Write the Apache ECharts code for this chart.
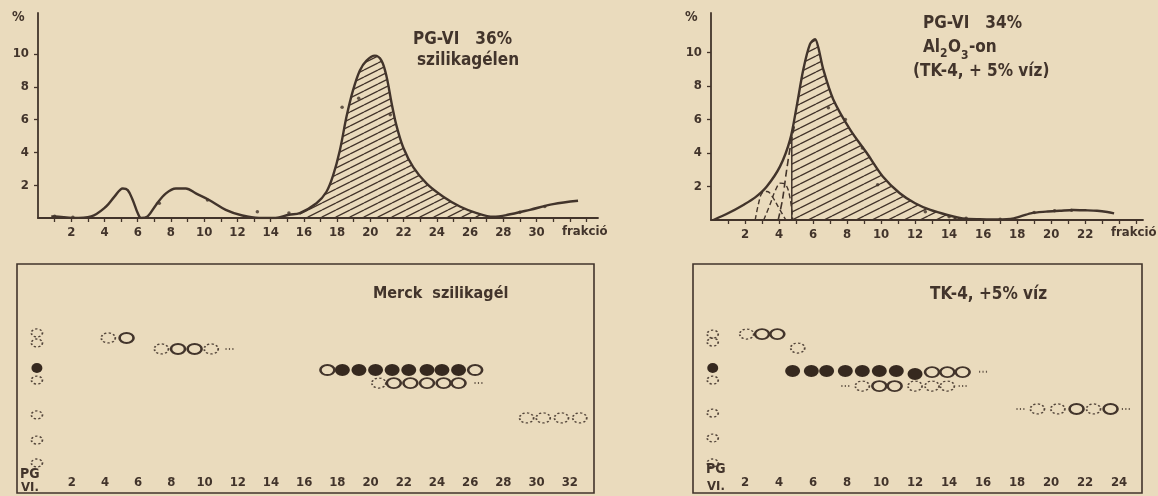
<!DOCTYPE html>
<html>
<head>
<meta charset="utf-8">
<script src="https://cdn.jsdelivr.net/npm/echarts@6/dist/echarts.min.js"></script>
<style>
html, body { margin: 0; padding: 0; background: #eadbbd; }
#chart { width: 1158px; height: 496px; }
</style>
</head>
<body>
<div id="chart"></div>
<script>
// top left: PG-VI 36% on silica gel, elution curve (fraction -> %)
const silicaX = [0.8, 1.0, 2.1, 3.2, 4.1, 4.6, 5.1, 5.4, 5.7, 6.0, 6.2, 6.6, 7.1, 7.7, 8.3, 8.9, 9.5, 10.3, 11.3, 12.3, 13.3, 14.3, 15.1, 15.75, 16.76, 17.36, 17.76, 18.16, 18.57, 18.96, 19.37, 19.77, 20.27, 20.67, 20.98, 21.28, 21.58, 21.98, 22.58, 23.39, 24.39, 25.39, 26.4, 27.4, 28.2, 29.6, 31.0, 32.5];
const silicaY = [0.1, 0.1, 0.0, 0.1, 0.7, 1.3, 1.8, 1.7, 1.1, 0.3, 0.0, 0.1, 0.8, 1.5, 1.8, 1.8, 1.5, 1.1, 0.5, 0.15, 0.0, 0.0, 0.2, 0.3, 0.9, 1.6, 2.6, 4.1, 6.2, 7.8, 9.0, 9.6, 9.9, 9.6, 8.6, 7.0, 5.6, 4.3, 3.1, 2.1, 1.3, 0.7, 0.3, 0.08, 0.18, 0.5, 0.85, 1.05];
const silicaHatch = [15.7, 27.5];
const silicaDotX = [1.0, 2.1, 7.3, 10.2, 13.2, 15.1, 18.3, 19.3, 21.2, 29.0, 30.5];
const silicaDotY = [0.1, 0.05, 0.9, 1.1, 0.38, 0.3, 6.75, 7.3, 6.3, 0.35, 0.7];

// top right: PG-VI 34% on Al2O3 (TK-4 + 5% water)
const aluX = [0.14, 1.0, 1.9, 2.6, 3.28, 4.06, 4.65, 5.04, 5.43, 5.82, 6.12, 6.31, 6.6, 7.19, 8.18, 9.16, 10.1, 11.1, 12.0, 12.9, 13.9, 14.8, 15.8, 16.8, 17.8, 18.8, 19.7, 20.5, 21.3, 22.0, 22.7, 23.3, 23.7];
const aluY = [0.0, 0.4, 0.9, 1.35, 2.0, 3.2, 4.8, 6.8, 9.0, 10.5, 10.8, 10.3, 9.0, 7.2, 5.4, 4.0, 2.6, 1.6, 1.0, 0.6, 0.3, 0.1, 0.05, 0.04, 0.1, 0.4, 0.5, 0.55, 0.6, 0.58, 0.55, 0.48, 0.4];
const aluHatchFrom = 4.75;
const aluHatchEdge = 5.3;
const aluDotX = [6.9, 7.9, 8.9, 9.8, 12.6, 14.0, 15.0, 17.0, 19.0, 20.2, 21.2];
const aluDotY = [6.7, 6.0, 4.3, 2.1, 0.5, 0.2, 0.1, 0.05, 0.45, 0.55, 0.58];
const compAX = [2.6, 2.8, 3.0, 3.3, 3.6, 4.0, 4.4];
const compAY = [0.0, 1.0, 1.6, 1.7, 1.4, 0.7, 0.0];
const compBX = [3.1, 3.5, 3.8, 4.1, 4.4, 4.65, 4.8];
const compBY = [0.0, 1.0, 1.8, 2.2, 2.1, 1.3, 0.0];
const compCX = [3.95, 4.2, 4.45, 4.7, 4.9];
const compCY = [0.0, 1.2, 3.0, 4.6, 5.6];

// TLC plates: [fraction, height on plate (0-100)]
const merckFilled = [[-0.1, 54.6], [18.3, 53.7], [19.3, 53.7], [20.3, 53.7], [21.3, 53.7], [22.3, 53.7], [23.4, 53.7], [24.3, 53.7], [25.3, 53.7]];
const merckOpen = [[5.3, 67.7], [8.4, 62.9], [9.4, 62.9], [17.4, 53.7], [26.3, 53.7], [21.4, 48.0], [22.4, 48.0], [23.4, 48.0], [24.4, 48.0], [25.3, 48.0]];
const merckFaint = [[-0.1, 69.9], [-0.1, 65.5], [-0.1, 49.3], [-0.1, 34.1], [-0.1, 23.1], [-0.1, 13.1], [4.2, 67.7], [7.4, 62.9], [10.4, 62.9], [20.5, 48.0], [29.4, 32.8], [30.4, 32.8], [31.5, 32.8], [32.6, 32.8]];
const merckTrace = [[11.5, 62.9], [26.5, 48.0]];

const tkFilled = [[0.1, 54.6], [4.8, 53.3], [5.9, 53.3], [6.8, 53.3], [7.9, 53.3], [8.9, 53.3], [9.9, 53.3], [10.9, 53.3], [12.0, 52.0]];
const tkOpen = [[3.0, 69.4], [3.9, 69.4], [13.0, 52.8], [13.9, 52.8], [14.8, 52.8], [9.9, 46.7], [10.8, 46.7], [21.5, 36.7], [23.5, 36.7]];
const tkFaint = [[0.1, 69.4], [0.1, 65.9], [0.1, 49.3], [0.1, 34.9], [0.1, 24.0], [0.1, 13.1], [2.1, 69.4], [5.1, 63.3], [8.9, 46.7], [12.0, 46.7], [13.0, 46.7], [13.9, 46.7], [19.2, 36.7], [20.4, 36.7], [22.5, 36.7]];
const tkTrace = [[16.0, 53.0], [7.9, 46.7], [14.8, 46.7], [18.2, 36.7], [24.4, 36.7]];

const silicaTicks = [2, 4, 6, 8, 10, 12, 14, 16, 18, 20, 22, 24, 26, 28, 30];
const aluTicks = [2, 4, 6, 8, 10, 12, 14, 16, 18, 20, 22];
const merckTicks = [2, 4, 6, 8, 10, 12, 14, 16, 18, 20, 22, 24, 26, 28, 30, 32];
const tkTicks = [2, 4, 6, 8, 10, 12, 14, 16, 18, 20, 22, 24];
const yTicks = [2, 4, 6, 8, 10];

const ink = '#42342b';
const font = "'DejaVu Sans Condensed', 'DejaVu Sans', sans-serif";

const pairs = (xs, ys) => xs.map((x, i) => [x, ys[i]]);
const range = (n) => Array.from({ length: n }, (_, i) => i + 1);

function hatch(step) {
    const c = document.createElement('canvas');
    c.width = step * 2;
    c.height = step;
    const g = c.getContext('2d');
    g.strokeStyle = ink;
    g.lineWidth = 1.35;
    for (let k = -1; k <= 1; k++) {
        g.beginPath();
        g.moveTo(0, step + k * step);
        g.lineTo(step * 2, k * step);
        g.stroke();
    }
    return c;
}

const silicaCurve = pairs(silicaX, silicaY);
const silicaArea = silicaCurve.filter(p => p[0] >= silicaHatch[0] && p[0] <= silicaHatch[1]);
const aluCurve = pairs(aluX, aluY);
const aluArea = [[aluHatchFrom, aluHatchEdge]].concat(aluCurve.filter(p => p[0] > aluHatchFrom && p[0] <= 16));

const chart = echarts.init(document.getElementById('chart'));

const axisText = { color: ink, fontFamily: font, fontSize: 13, fontWeight: 'bold' };

function curveX(idx, max, ticks, nTicks) {
    return {
        type: 'value', gridIndex: idx, min: 0, max: max,
        splitLine: { show: false },
        axisLine: { lineStyle: { color: ink, width: 1.8 } },
        axisTick: { customValues: range(nTicks), length: 4, lineStyle: { color: ink, width: 1.3 } },
        axisLabel: Object.assign({ customValues: ticks, margin: 8 }, axisText)
    };
}
function curveY(idx, max) {
    return {
        type: 'value', gridIndex: idx, min: 0, max: max,
        splitLine: { show: false },
        axisLine: { show: true, lineStyle: { color: ink, width: 1.8 } },
        axisTick: { show: true, customValues: yTicks, length: 4, lineStyle: { color: ink, width: 1.3 } },
        axisLabel: Object.assign({ customValues: yTicks, margin: 9 }, axisText)
    };
}
function plateX(idx, min, max, ticks) {
    return {
        type: 'value', gridIndex: idx, min: min, max: max,
        splitLine: { show: false },
        axisLine: { show: false },
        axisTick: { show: false },
        axisLabel: Object.assign({ customValues: ticks, inside: true, margin: 4 }, axisText)
    };
}
function plateY(idx) {
    return { type: 'value', gridIndex: idx, min: 0, max: 100, show: false, splitLine: { show: false } };
}

function spots(idx, filled, open, faint, trace) {
    const size = v => v[0] < 1 ? [11, 8] : [14, 10];
    return [
        { type: 'scatter', xAxisIndex: idx, yAxisIndex: idx, data: filled, symbol: 'circle',
          symbolSize: v => v[0] < 1 ? [11, 10] : [15, 12], itemStyle: { color: '#36291f', opacity: 1 } },
        { type: 'scatter', xAxisIndex: idx, yAxisIndex: idx, data: open, symbol: 'circle', symbolSize: size,
          itemStyle: { color: 'rgba(0,0,0,0)', borderColor: ink, borderWidth: 2.2, opacity: 1 } },
        { type: 'scatter', xAxisIndex: idx, yAxisIndex: idx, data: faint, symbol: 'circle', symbolSize: size,
          itemStyle: { color: 'rgba(0,0,0,0)', borderColor: ink, borderWidth: 1.5, borderType: [2, 2], opacity: 0.9 } },
        { type: 'scatter', xAxisIndex: idx, yAxisIndex: idx, data: trace,
          symbol: 'path://M0,0h1v1h-1z M3,0h1v1h-1z M6,0h1v1h-1z', symbolSize: [8, 2],
          itemStyle: { color: ink } }
    ];
}

function text(str, left, top, size) {
    return { type: 'text', left: left, top: top,
             style: { text: str, fill: ink, fontFamily: font, fontWeight: 'bold', fontSize: size || 16 } };
}

const options = {
    backgroundColor: '#eadbbd',
    animation: false,
    grid: [
        { left: 38, top: 13, width: 560, height: 205 },
        { left: 711, top: 13, width: 432, height: 207 },
        { left: 17, top: 264, width: 577, height: 229, show: true, borderColor: ink, borderWidth: 1.6, backgroundColor: 'transparent' },
        { left: 693, top: 264, width: 449, height: 229, show: true, borderColor: ink, borderWidth: 1.6, backgroundColor: 'transparent' }
    ],
    xAxis: [
        curveX(0, 33.7, silicaTicks, 33),
        curveX(1, 25.4, aluTicks, 25),
        plateX(2, -1.3, 33.46, merckTicks),
        plateX(3, -1.06, 25.35, tkTicks)
    ],
    yAxis: [curveY(0, 12.5), curveY(1, 12.36), plateY(2), plateY(3)],
    series: [
        { type: 'line', xAxisIndex: 0, yAxisIndex: 0, data: silicaArea, smooth: 0.35, symbol: 'none',
          lineStyle: { width: 0 }, areaStyle: { color: { image: hatch(7), repeat: 'repeat' }, opacity: 1 }, z: 1 },
        { type: 'line', xAxisIndex: 0, yAxisIndex: 0, data: silicaCurve, smooth: 0.35, symbol: 'none',
          lineStyle: { color: ink, width: 2.4 }, z: 3 },
        { type: 'scatter', xAxisIndex: 0, yAxisIndex: 0, data: pairs(silicaDotX, silicaDotY), symbolSize: 3.5,
          itemStyle: { color: ink } },

        { type: 'line', xAxisIndex: 1, yAxisIndex: 1, data: aluArea, smooth: 0.3, symbol: 'none',
          lineStyle: { width: 0 }, areaStyle: { color: { image: hatch(8), repeat: 'repeat' }, opacity: 1 }, z: 1 },
        { type: 'line', xAxisIndex: 1, yAxisIndex: 1, data: aluCurve, smooth: 0.3, symbol: 'none',
          lineStyle: { color: ink, width: 2.4 }, z: 3 },
        { type: 'line', xAxisIndex: 1, yAxisIndex: 1, data: [[aluHatchFrom, 0], [aluHatchFrom, aluHatchEdge]], symbol: 'none',
          lineStyle: { color: ink, width: 1.5 } },
        { type: 'line', xAxisIndex: 1, yAxisIndex: 1, data: pairs(compAX, compAY), smooth: 0.4, symbol: 'none',
          lineStyle: { color: ink, width: 1.4, type: [5, 3] } },
        { type: 'line', xAxisIndex: 1, yAxisIndex: 1, data: pairs(compBX, compBY), smooth: 0.4, symbol: 'none',
          lineStyle: { color: ink, width: 1.4, type: [5, 3] } },
        { type: 'line', xAxisIndex: 1, yAxisIndex: 1, data: pairs(compCX, compCY), smooth: 0.3, symbol: 'none',
          lineStyle: { color: ink, width: 1.6, type: [7, 4] } },
        { type: 'scatter', xAxisIndex: 1, yAxisIndex: 1, data: pairs(aluDotX, aluDotY), symbolSize: 3.5,
          itemStyle: { color: ink } }
    ].concat(spots(2, merckFilled, merckOpen, merckFaint, merckTrace))
     .concat(spots(3, tkFilled, tkOpen, tkFaint, tkTrace)),
    graphic: [
        text('%', 12, 10, 14),
        text('%', 685, 10, 14),
        text('PG-VI   36%', 413, 31, 17),
        text('szilikagélen', 417, 52, 17),
        text('frakció', 562, 225, 13),
        text('PG-VI   34%', 923, 15, 17),
        text('Al', 923, 39, 17),
        text('2', 940, 48, 12),
        text('O', 948, 39, 17),
        text('3', 961, 50, 12),
        text('-on', 969, 39, 17),
        text('(TK-4, + 5% víz)', 913, 63, 17),
        text('frakció', 1111, 226, 13),
        text('Merck  szilikagél', 373, 286, 16),
        text('TK-4, +5% víz', 930, 286, 17),
        text('PG', 20, 467, 14),
        text('VI.', 21, 481, 13),
        text('PG', 706, 462, 14),
        text('VI.', 707, 480, 13)
    ]
};

chart.setOption(options);
window.addEventListener('resize', chart.resize);
</script>
</body>
</html>
